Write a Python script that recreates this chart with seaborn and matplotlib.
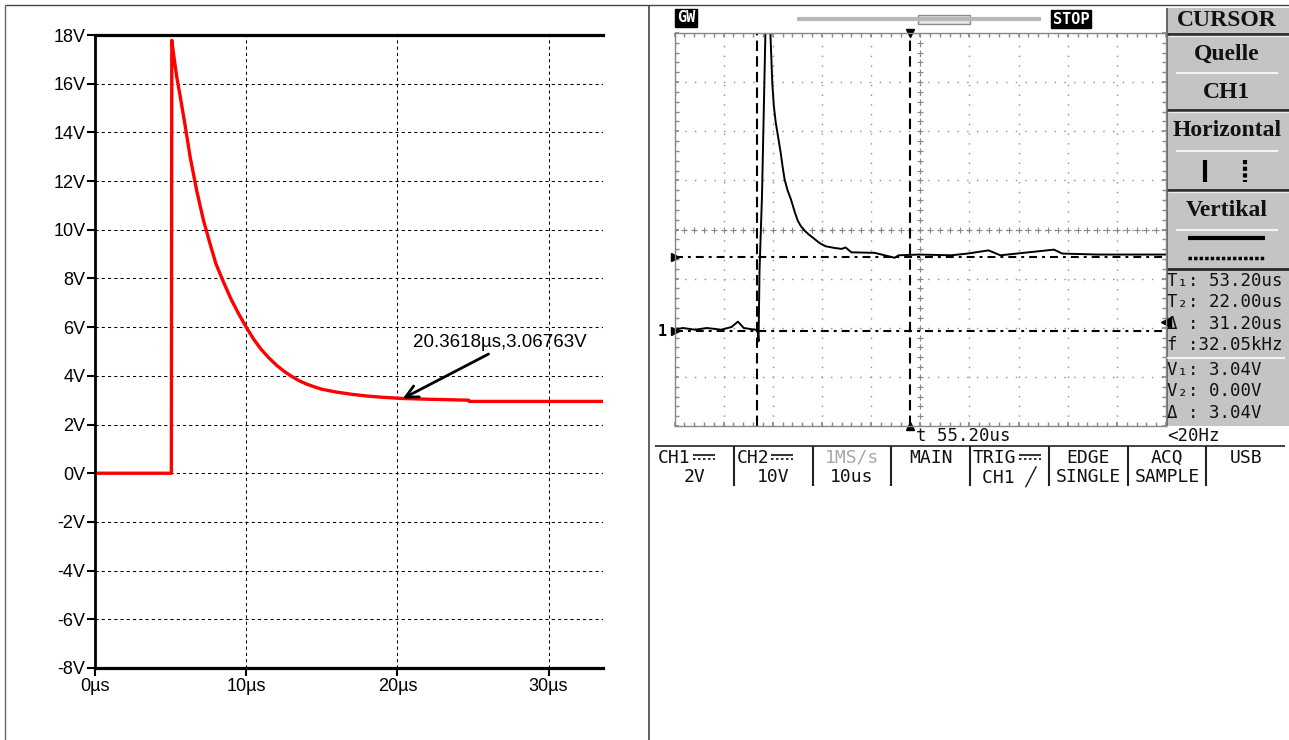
import numpy as np
import matplotlib.pyplot as plt
import matplotlib.patches as patches
import seaborn as sns

# LTspice simulation (left panel)
sim_time_us = [0, 5.05, 5.08, 5.2, 5.4, 5.63, 5.96, 6.29, 6.73, 7.17, 7.62, 8.0,
               8.5, 9.0, 9.5, 10.0, 10.5, 11.0, 11.5, 12.0, 12.5, 13.0, 13.5,
               14.0, 14.5, 15.0, 16.0, 17.0, 18.0, 19.0, 20.36, 22.0, 24.7,
               24.75, 33.6]
sim_volt = [0, 0, 17.78, 17.2, 16.3, 15.5, 14.29, 13.0, 11.6, 10.4, 9.4, 8.6,
            7.85, 7.15, 6.55, 6.0, 5.5, 5.08, 4.74, 4.44, 4.19, 3.98, 3.8,
            3.66, 3.55, 3.45, 3.33, 3.24, 3.17, 3.12, 3.07, 3.04, 3.0,
            2.95, 2.95]
sim_xticks = [0, 10, 20, 30]
sim_yticks = list(range(-8, 19, 2))
marker_t, marker_v = 20.3618, 3.06763

# oscilloscope capture (right panel), CH1 2V/div, 10us/div
scope_time_us = [0, 1.7, 4.2, 6.6, 9.5, 11.6, 12.9, 14.1, 16.4, 16.9, 17.1, 17.3,
                 17.8, 18.5, 18.9, 19.5, 19.9, 20.2, 20.6, 21.1, 21.6, 22.0, 22.4,
                 23.0, 23.7, 24.5, 25.1, 25.7, 26.5, 27.3, 28.2, 29.5, 30.7, 32.5,
                 34.0, 34.8, 36.0, 40.7, 44.8, 45.6, 49.7, 56.3, 59.6, 63.9, 66.3,
                 77.2, 78.9, 86.2, 100]
scope_volt = [0.07, 0.14, 0.07, 0.14, 0.07, 0.18, 0.4, 0.14, 0.07, 0.05, -0.4, 2.5,
              5.5, 12.2, 14.0, 12.2, 10.1, 9.2, 8.5, 7.9, 7.28, 6.7, 6.19,
              5.75, 5.37, 4.84, 4.5, 4.29, 4.1, 3.95, 3.81, 3.6, 3.47, 3.4,
              3.36, 3.42, 3.22, 3.2, 3.0, 3.1, 3.13, 3.1, 3.17, 3.3, 3.1,
              3.33, 3.17, 3.13, 3.13]
cursor_t = [16.8, 47.9]
cursor_v = [3.04, 0.0]
trig_level = 0.4
readout = ["T\u2081: 53.20us", "T\u2082: 22.00us", "\u0394 : 31.20us", "f :32.05kHz",
           "V\u2081: 3.04V", "V\u2082: 0.00V", "\u0394 : 3.04V"]
readout_y = [281, 302, 324, 345, 370, 391, 413]
menu_top = ["CH1", "CH2", "1MS/s", "MAIN", "TRIG", "EDGE", "ACQ", "USB"]
menu_bottom = ["2V", "10V", "10us", "", "CH1 \u2571", "SINGLE", "SAMPLE", ""]

sns.set_theme(style="white")
plt.rcParams["font.family"] = ["Liberation Sans", "DejaVu Sans"]
plt.rcParams["text.color"] = "black"
plt.rcParams["xtick.color"] = "black"
plt.rcParams["ytick.color"] = "black"
plt.rcParams["axes.labelcolor"] = "black"

W, H = 1289, 740
fig = plt.figure(figsize=(W / 100, H / 100), dpi=100)

# pixel canvas for the frame and scope decorations
canvas = fig.add_axes([0, 0, 1, 1])
canvas.set_xlim(0, W)
canvas.set_ylim(H, 0)
canvas.axis("off")


def px_axes(x0, y0, x1, y1):
    return fig.add_axes([x0 / W, 1 - y1 / H, (x1 - x0) / W, (y1 - y0) / H])


def seg(xs, ys, **kw):
    canvas.plot(xs, ys, solid_capstyle="butt", **kw)


seg([5, W], [5, 5], color="#444444", lw=1)
seg([5, 5], [5, H], color="#666666", lw=1)
seg([649, 649], [5, H], color="#444444", lw=1.2)

# ---------------- left: simulation ----------------
ax = px_axes(95, 35, 603, 668)
sns.lineplot(x=sim_time_us, y=sim_volt, ax=ax, color="#ff0000", lw=2.4,
             sort=False, estimator=None)
ax.set_xlim(0, 33.6)
ax.set_ylim(-8, 18)
ax.set_xticks(sim_xticks)
ax.set_xticklabels([f"{t}\u00b5s" for t in sim_xticks])
ax.set_yticks(sim_yticks)
ax.set_yticklabels([f"{v}V" for v in sim_yticks])
ax.set_xlabel("")
ax.set_ylabel("")
ax.set_axisbelow(True)
ax.grid(True, color="black", lw=0.75, linestyle=(0, (3, 3)))
for side, lw in [("left", 2.0), ("top", 2.3), ("bottom", 2.3)]:
    ax.spines[side].set_color("black")
    ax.spines[side].set_linewidth(lw)
ax.spines["right"].set_visible(False)
ax.tick_params(direction="out", length=6, width=1.5, labelsize=13, pad=1,
               colors="black", left=True, bottom=True)
ax.annotate(f"{marker_t}\u00b5s,{marker_v}V", xy=(marker_t, marker_v),
            xytext=(21.05, 5.38), ha="left", va="center", fontsize=13.5,
            color="black",
            arrowprops=dict(arrowstyle="->", lw=2, color="black",
                            mutation_scale=22, shrinkA=0, shrinkB=0,
                            relpos=(0.47, 0)))

# ---------------- right: oscilloscope ----------------
sc = px_axes(674.5, 33, 1166, 426)
sc.set_xlim(0, 100)
sc.set_ylim(-3.85, 12.15)
sc.set_xticks(np.arange(0, 101, 10))
sc.set_yticks(np.linspace(-3.85, 12.15, 9))
sc.set_xticks(np.arange(0, 101, 2), minor=True)
sc.set_yticks(np.linspace(-3.85, 12.15, 41), minor=True)
sc.tick_params(which="both", direction="in", length=3, color="#888888",
               top=True, right=True, left=True, bottom=True,
               labelbottom=False, labelleft=False)
sc.grid(True, which="major", color="#8c8c8c", lw=1, linestyle=(0, (1, 6)))
for sp in sc.spines.values():
    sp.set_color("#888888")
    sp.set_linewidth(1)
cx = np.arange(0, 101, 2)
sc.plot(cx, np.full(cx.size, 4.15), ls="none", marker="+", ms=4, mew=0.8,
        color="#888888")
cy = np.linspace(-3.85, 12.15, 41)
sc.plot(np.full(cy.size, 50), cy, ls="none", marker="+", ms=4, mew=0.8,
        color="#888888")

for t in cursor_t:
    sc.axvline(t, color="black", lw=1.5, linestyle=(0, (5, 2.5)))
for v in cursor_v:
    sc.axhline(v, color="black", lw=1.5, linestyle=(0, (3.8, 2.4, 1.4, 2.4)))

sns.lineplot(x=scope_time_us, y=scope_volt, ax=sc, color="black", lw=1.4,
             sort=False, estimator=None)
sc.set_xlabel("")
sc.set_ylabel("")

sc.plot([0, 0], cursor_v, ls="none", marker=">", ms=6, color="black",
        clip_on=False)
sc.plot([100], [trig_level], ls="none", marker="<", ms=7, color="black",
        clip_on=False)
sc.plot([cursor_t[1]], [12.15], ls="none", marker="v", ms=6, color="black",
        clip_on=False)
sc.plot([cursor_t[1]], [-3.85], ls="none", marker="^", ms=6, color="black",
        clip_on=False)
sc.annotate("1", xy=(0, 0), xytext=(-9, 0), textcoords="offset points",
            ha="center", va="center", fontsize=11, family="DejaVu Sans Mono",
            fontweight="bold")

mono = ["DejaVu Sans Mono", "DejaVu Sans"]
serif = ["Liberation Serif", "DejaVu Serif"]

# top status bar
canvas.text(686, 18, "GW", ha="center", va="center", color="white",
            family=mono, fontsize=11, fontweight="bold",
            bbox=dict(boxstyle="square,pad=0.1", fc="black", ec="black"))
seg([797, 1041], [19, 19], color="#b8b8b8", lw=3)
canvas.add_patch(patches.Rectangle((918, 14.5), 52, 9.5, fc="#e6e6e6",
                                   ec="#8c8c8c", lw=1))
canvas.text(1071, 19, "STOP", ha="center", va="center", color="white",
            family=mono, fontsize=11, fontweight="bold",
            bbox=dict(boxstyle="square,pad=0.1", fc="black", ec="black"))

# side menu
canvas.add_patch(patches.Rectangle((1166, 8), W - 1166, 418, fc="#c4c4c4",
                                   ec="none"))
seg([1167, 1167], [8, 426], color="#555555", lw=1.2)
for y in [34, 110, 190, 269]:
    seg([1167, W], [y, y], color="#2a2a2a", lw=2)
for y in [73, 151, 230]:
    seg([1176, 1278], [y, y], color="#f4f4f4", lw=1.5)
seg([1167, 1285], [358, 358], color="#f4f4f4", lw=1.5)
for y in [36, 112, 192]:
    seg([1168, W], [y, y], color="#e8e8e8", lw=1)

for txt, y in [("CURSOR", 21), ("Quelle", 54), ("CH1", 92),
               ("Horizontal", 130), ("Vertikal", 210)]:
    canvas.text(1227, y, txt, ha="center", va="center", family=serif,
                fontweight="bold", fontsize=17, color="#111111")
seg([1205, 1205], [160, 182], color="black", lw=3)
seg([1245, 1245], [160, 182], color="black", lw=3, linestyle=(0, (1, 0.6)))
seg([1188, 1265], [238, 238], color="black", lw=3)
seg([1188, 1265], [258, 258], color="black", lw=2.5, linestyle=(0, (1, 0.6)))

for txt, y in zip(readout, readout_y):
    canvas.text(1167, y, txt, ha="left", va="center", family=mono,
                fontsize=12.5, color="#111111")

canvas.text(916, 436, "t 55.20us", ha="left", va="center", family=mono,
            fontsize=12.5, color="#111111")
canvas.text(1167, 436, "<20Hz", ha="left", va="center", family=mono,
            fontsize=12.5, color="#111111")

# bottom soft-key row
seg([655, 1285], [446, 446], color="#222222", lw=1.2)
cell_edges = np.linspace(655, 1285, 9)
for x in cell_edges[1:-1]:
    seg([x, x], [446, 486], color="#222222", lw=1.5)
dc_keys = {"CH1", "CH2", "TRIG"}
for i, (top, bottom) in enumerate(zip(menu_top, menu_bottom)):
    x0, x1 = cell_edges[i], cell_edges[i + 1]
    xc = (x0 + x1) / 2
    if top in dc_keys:
        canvas.text(x0 + 3, 458, top, ha="left", va="center", family=mono,
                    fontsize=13, color="#111111")
        sx = x0 + 3 + len(top) * 10.9 + 2
        seg([sx, sx + 22], [455, 455], color="#111111", lw=1.2)
        seg([sx, sx + 22], [459, 459], color="#111111", lw=1.2,
            linestyle=(0, (1.5, 1.5)))
    else:
        col = "#a8a8a8" if top == "1MS/s" else "#111111"
        canvas.text(xc, 458, top, ha="center", va="center", family=mono,
                    fontsize=13, color=col)
    if bottom:
        canvas.text(xc, 477, bottom, ha="center", va="center", family=mono,
                    fontsize=13, color="#111111")

fig.savefig("out.png", dpi=100)
plt.close(fig)
